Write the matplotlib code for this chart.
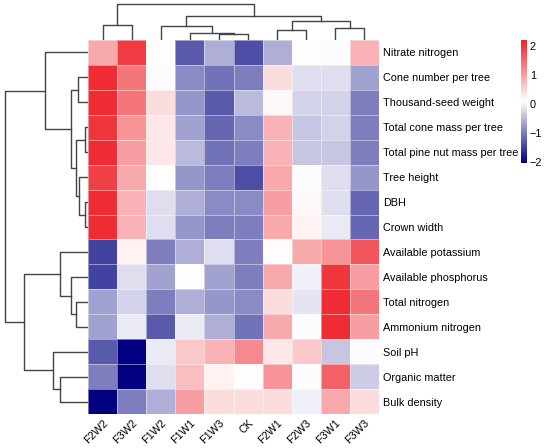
import numpy as np
import matplotlib
matplotlib.use("Agg")
import matplotlib.pyplot as plt
from matplotlib.colors import LinearSegmentedColormap

plt.rcParams['font.family'] = ['Liberation Sans', 'DejaVu Sans']

samples = ['F2W2', 'F3W2', 'F1W2', 'F1W1', 'F1W3', 'CK', 'F2W1', 'F2W3', 'F3W1', 'F3W3']
traits = ['Nitrate nitrogen', 'Cone number per tree', 'Thousand-seed weight',
          'Total cone mass per tree', 'Total pine nut mass per tree', 'Tree height',
          'DBH', 'Crown width', 'Available potassium', 'Available phosphorus',
          'Total nitrogen', 'Ammonium nitrogen', 'Soil pH', 'Organic matter', 'Bulk density']

# z-scores, rows = traits, cols = samples (display order)
zscores = np.array([
    [0.9, 1.95, 0.1, -1.3, -0.6, -1.4, -0.6, 0.1, 0.05, 0.8],
    [2.1, 1.4, 0.05, -0.9, -1.1, -1.0, 0.4, -0.2, -0.2, -0.7],
    [2.1, 1.4, 0.4, -0.8, -1.3, -0.5, 0.15, -0.3, -0.3, -1.0],
    [2.0, 1.1, 0.3, -0.7, -1.2, -0.9, 0.8, -0.4, -0.3, -1.0],
    [2.1, 1.0, 0.3, -0.5, -1.1, -1.0, 0.8, -0.4, -0.4, -1.0],
    [1.9, 0.9, 0.1, -0.8, -1.0, -1.4, 0.9, 0.05, -0.2, -0.8],
    [2.1, 0.8, -0.2, -0.6, -0.9, -0.9, 1.0, 0.15, -0.2, -1.2],
    [2.1, 0.8, -0.2, -0.8, -1.0, -1.0, 0.9, 0.2, -0.1, -1.2],
    [-1.5, 0.2, -1.0, -0.6, -0.2, -1.0, 0.1, 0.9, 1.1, 1.7],
    [-1.5, -0.2, -0.7, 0.1, -0.7, -1.0, 0.9, -0.05, 2.0, 1.0],
    [-0.7, -0.3, -1.0, -0.6, -0.8, -0.9, 0.4, -0.15, 2.1, 1.4],
    [-0.7, -0.1, -1.3, -0.1, -0.6, -1.1, 0.9, 0.05, 2.1, 1.0],
    [-1.3, -2.05, -0.1, 0.6, 0.8, 1.2, 0.3, 0.6, -0.4, 0.05],
    [-1.0, -2.05, -0.2, 0.7, 0.2, 0.1, 1.1, 0.05, 1.6, -0.35],
    [-2.05, -1.0, -0.6, 1.0, 0.4, 0.4, 0.4, -0.05, 0.9, 0.4],
])

# dendrogram merges: [child a, child b, height], leaves are 0..n-1 in display order
col_merges = [[4, 5, 6], [3, 10, 7], [2, 11, 14], [6, 7, 10], [8, 9, 12],
              [13, 14, 19], [12, 15, 24], [0, 1, 15], [17, 16, 36]]
row_merges = [[3, 4, 3], [6, 7, 3], [5, 16, 9], [15, 17, 12], [1, 2, 10],
              [19, 18, 17], [0, 20, 43], [10, 11, 12], [9, 22, 17], [8, 23, 28],
              [13, 14, 28], [12, 25, 35], [24, 26, 64], [21, 27, 83]]


def dendro_segments(merges, n):
    pos = {i: i + 0.5 for i in range(n)}
    hgt = {i: 0.0 for i in range(n)}
    segs = []
    for k, (a, b, h) in enumerate(merges):
        segs.append(([pos[a], pos[a], pos[b], pos[b]], [hgt[a], h, h, hgt[b]]))
        pos[n + k] = (pos[a] + pos[b]) / 2
        hgt[n + k] = h
    return segs


W, H = 550, 448
fig = plt.figure(figsize=(W / 100, H / 100), dpi=100)


def px_axes(x0, y0, x1, y1):
    return fig.add_axes([x0 / W, 1 - y1 / H, (x1 - x0) / W, (y1 - y0) / H])


cmap = LinearSegmentedColormap.from_list('nwr', ['#000080', '#ffffff', '#EE2129'])
vmin, vmax = -2.05, 2.2
fs = 7.8

ax = px_axes(88, 40, 379, 414)
mesh = ax.pcolormesh(zscores, cmap=cmap, vmin=vmin, vmax=vmax,
                     edgecolors=(1, 1, 1, 0.45), linewidth=0.6)
ax.set_xlim(0, len(samples))
ax.set_ylim(len(traits), 0)
for s in ax.spines.values():
    s.set_visible(False)
ax.set_xticks(np.arange(len(samples)) + 0.5)
ax.set_xticklabels(samples, rotation=45, ha='right', va='top', rotation_mode='anchor', fontsize=fs)
ax.set_yticks(np.arange(len(traits)) + 0.5)
ax.set_yticklabels(traits, fontsize=fs)
ax.yaxis.tick_right()
ax.tick_params(length=0, pad=3)

# column dendrogram
axc = px_axes(88, 3, 379, 40)
for xs, ys in dendro_segments(col_merges, len(samples)):
    axc.plot(xs, ys, color='#444444', lw=1)
axc.set_xlim(0, len(samples))
axc.set_ylim(0, 37)
axc.axis('off')

# row dendrogram
axr = px_axes(4, 40, 88, 414)
for ys, xs in dendro_segments(row_merges, len(traits)):
    axr.plot(xs, ys, color='#444444', lw=1)
axr.set_xlim(84, 0)
axr.set_ylim(len(traits), 0)
axr.axis('off')

# colorbar
cax = px_axes(521, 40, 527, 163)
cb = fig.colorbar(mesh, cax=cax, ticks=[-2, -1, 0, 1, 2])
cb.outline.set_visible(False)
cb.ax.tick_params(length=0, labelsize=fs, pad=2)

fig.savefig('out.png', dpi=100)
